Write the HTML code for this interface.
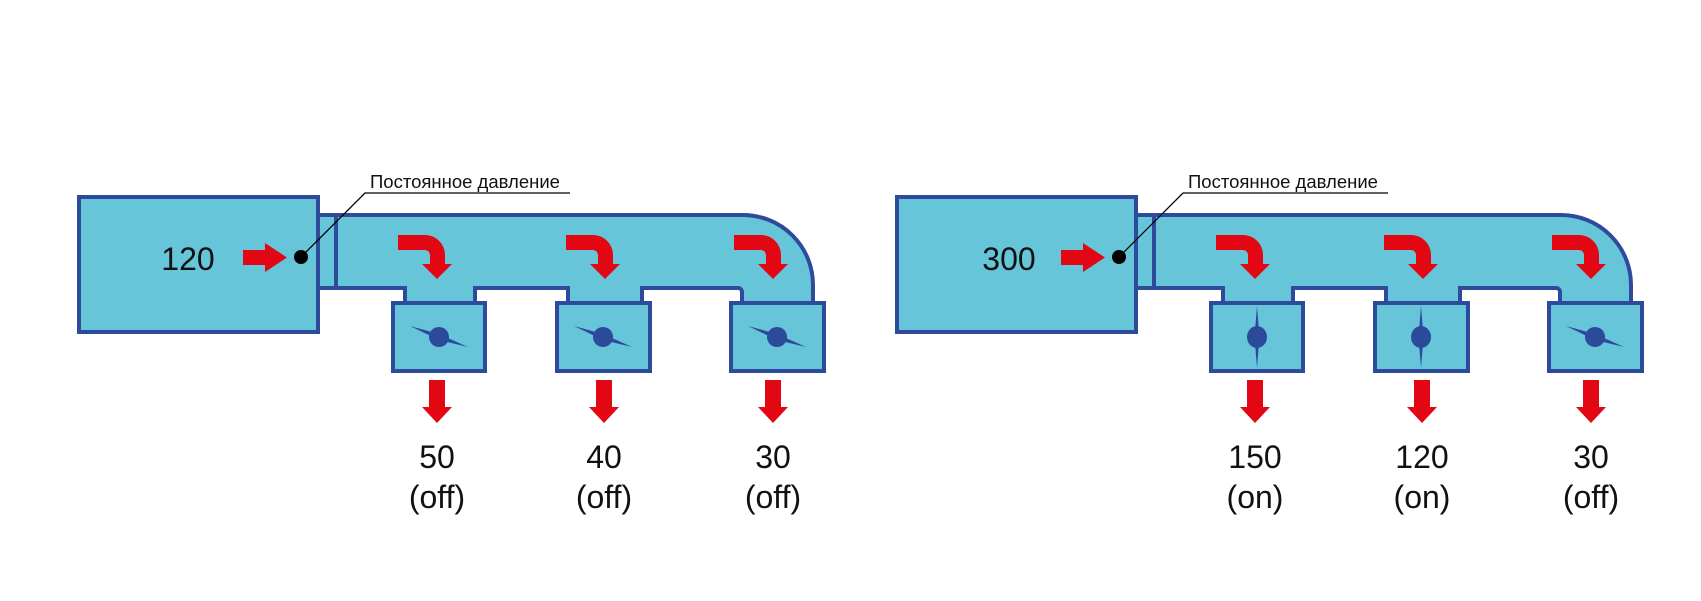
<!DOCTYPE html>
<html><head><meta charset="utf-8"><style>
html,body{margin:0;padding:0;background:#fff;}
svg{display:block;}
text{font-family:"Liberation Sans",sans-serif;fill:#111;}
</style></head><body>
<svg width="1701" height="601" viewBox="0 0 1701 601" xmlns="http://www.w3.org/2000/svg">
<defs>
<path id="ca" d="M0,0 H27 A20,20 0 0 1 47,20 V29 H54 L39,44 L24,29 H32 V20 A5,5 0 0 0 27,15 H0 Z" fill="#e30613"/>
<path id="da" d="M-8,0 H8 V27 H15 L0,43 L-15,27 H-8 Z" fill="#e30613"/>
<g id="dc"><circle r="10" fill="#2c4a9a"/><path d="M-29,-11 L0,-3 L29,10 L0,3 Z" fill="#2c4a9a"/></g>
<g id="do"><ellipse rx="10" ry="11" fill="#2c4a9a"/><path d="M0,-31 L2.5,0 L0,31 L-2.5,0 Z" fill="#2c4a9a"/></g>
<g id="base">
<g stroke="#2e4b9b" stroke-width="4" fill="#67c5da">
<rect x="79" y="197" width="239" height="135"/>
<path d="M318,215 H743 A70,70 0 0 1 813,285 V303 H742 V292 A4,4 0 0 0 738,288 H642 V303 H568 V288 H475 V303 H405 V288 H318 Z"/>
<line x1="336" y1="215" x2="336" y2="288"/>
<rect x="393" y="303" width="92" height="68"/>
<rect x="557" y="303" width="93" height="68"/>
<rect x="731" y="303" width="93" height="68"/>
</g>
<use href="#ca" x="398" y="235"/><use href="#ca" x="566" y="235"/><use href="#ca" x="734" y="235"/>
<use href="#da" x="437" y="380"/><use href="#da" x="604" y="380"/><use href="#da" x="773" y="380"/>
<path d="M243,250 H265 V243 L287,257.5 L265,272 V265 H243 Z" fill="#e30613"/>
<circle cx="301" cy="257" r="7" fill="#000"/>
<polyline points="301,257 365,193 570,193" fill="none" stroke="#000" stroke-width="1.3"/>
<text x="370" y="188" font-size="18.5">Постоянное давление</text>
</g>
</defs>
<use href="#base"/>
<use href="#base" x="818"/>
<!-- dampers -->
<use href="#dc" x="439" y="337"/><use href="#dc" x="603" y="337"/><use href="#dc" x="777" y="337"/>
<use href="#do" x="1257" y="337"/><use href="#do" x="1421" y="337"/><use href="#dc" x="1595" y="337"/>
<g font-size="32" text-anchor="middle">
<text x="188" y="270">120</text>
<text x="1009" y="270">300</text>
<text x="437" y="468">50</text><text x="437" y="508">(off)</text>
<text x="604" y="468">40</text><text x="604" y="508">(off)</text>
<text x="773" y="468">30</text><text x="773" y="508">(off)</text>
<text x="1255" y="468">150</text><text x="1255" y="508">(on)</text>
<text x="1422" y="468">120</text><text x="1422" y="508">(on)</text>
<text x="1591" y="468">30</text><text x="1591" y="508">(off)</text>
</g>
</svg>
</body></html>
